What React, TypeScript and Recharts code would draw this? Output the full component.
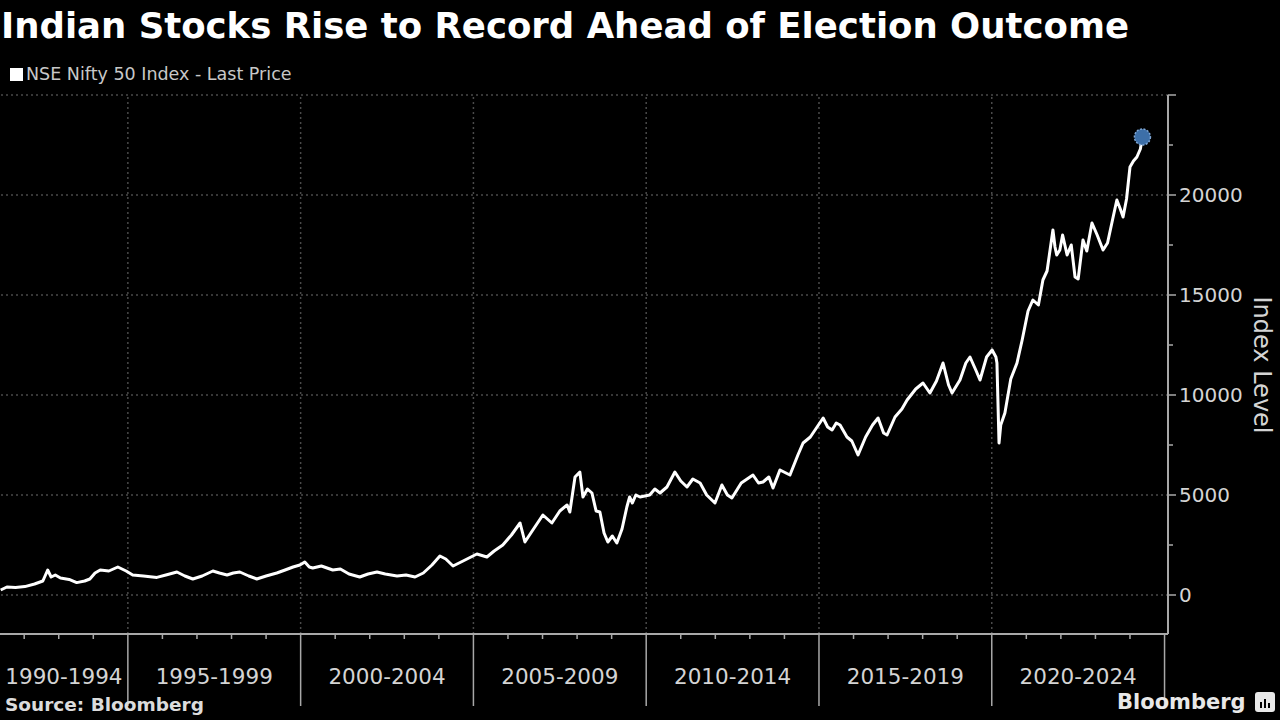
import React from 'react';
import { LineChart, Line, XAxis, YAxis, ReferenceLine } from 'recharts';

// time (fractional year) and index level
const years = [
  1991.32, 1991.5, 1991.75, 1992.02, 1992.3, 1992.54, 1992.68, 1992.78, 1992.9, 1993.05,
  1993.3, 1993.52, 1993.75, 1993.9, 1994.05, 1994.2, 1994.45, 1994.71, 1994.95, 1995.14,
  1995.45, 1995.84, 1996.1, 1996.42, 1996.65, 1996.88, 1997.15, 1997.46, 1997.65, 1997.87,
  1998.05, 1998.24, 1998.5, 1998.73, 1999.0, 1999.31, 1999.55, 1999.78, 1999.98, 2000.12,
  2000.25, 2000.35, 2000.6, 2000.93, 2001.15, 2001.4, 2001.71, 2001.95, 2002.21, 2002.45,
  2002.79, 2003.05, 2003.31, 2003.55, 2003.8, 2004.03, 2004.2, 2004.41, 2004.7, 2005.1,
  2005.39, 2005.6, 2005.85, 2006.1, 2006.35, 2006.49, 2006.7, 2007.01, 2007.27, 2007.5,
  2007.71, 2007.79, 2007.94, 2008.08, 2008.17, 2008.3, 2008.43, 2008.55, 2008.66, 2008.78,
  2008.89, 2009.02, 2009.15, 2009.3, 2009.44, 2009.52, 2009.6, 2009.7, 2009.82, 2010.1,
  2010.25, 2010.4, 2010.6, 2010.83, 2011.0, 2011.18, 2011.35, 2011.56, 2011.75, 2011.99,
  2012.19, 2012.35, 2012.48, 2012.75, 2013.09, 2013.25, 2013.38, 2013.55, 2013.67, 2013.87,
  2014.16, 2014.39, 2014.54, 2014.75, 2015.12, 2015.25, 2015.38, 2015.5, 2015.61, 2015.81,
  2015.95, 2016.13, 2016.35, 2016.55, 2016.71, 2016.87, 2016.97, 2017.2, 2017.4, 2017.55,
  2017.8, 2018.01, 2018.21, 2018.4, 2018.59, 2018.75, 2018.85, 2019.08, 2019.25, 2019.37,
  2019.55, 2019.66, 2019.85, 2020.01, 2020.12, 2020.15, 2020.21, 2020.26, 2020.38, 2020.55,
  2020.73, 2020.88, 2021.05, 2021.19, 2021.35, 2021.48, 2021.6, 2021.77, 2021.83, 2021.88,
  2021.97, 2022.05, 2022.18, 2022.3, 2022.41, 2022.5, 2022.64, 2022.75, 2022.9, 2023.05,
  2023.22, 2023.35, 2023.5, 2023.62, 2023.72, 2023.8, 2023.9, 2024.0, 2024.1, 2024.2,
  2024.3, 2024.36,
];
const levels = [
  250, 400, 380, 420, 550, 700, 1250, 900, 1000, 850,
  780, 620, 700, 800, 1100, 1250, 1200, 1400, 1200, 1000,
  950, 880, 1000, 1150, 950, 800, 950, 1200, 1100, 1000,
  1100, 1150, 950, 800, 950, 1100, 1250, 1400, 1500, 1650,
  1400, 1350, 1450, 1250, 1300, 1050, 900, 1050, 1150, 1050,
  950, 1000, 900, 1100, 1500, 1950, 1800, 1450, 1700, 2050,
  1900, 2200, 2500, 3000, 3600, 2650, 3200, 4000, 3600, 4200,
  4500, 4150, 5900, 6150, 4900, 5300, 5100, 4200, 4150, 3100,
  2650, 2950, 2600, 3300, 4400, 4900, 4600, 5000, 4900, 5000,
  5300, 5100, 5400, 6150, 5700, 5400, 5800, 5600, 5000, 4600,
  5500, 5000, 4850, 5600, 6000, 5600, 5650, 5900, 5350, 6250,
  6000, 7000, 7600, 7900, 8850, 8400, 8250, 8600, 8500, 7900,
  7700, 7000, 7900, 8500, 8850, 8100, 8000, 8900, 9300, 9750,
  10300, 10600, 10100, 10700, 11600, 10500, 10100, 10750, 11600, 11900,
  11200, 10750, 11900, 12250, 11900, 11600, 7600, 8500, 9100, 10800,
  11600, 12750, 14200, 14750, 14500, 15750, 16200, 18250, 17400, 17000,
  17250, 18000, 17000, 17500, 15900, 15800, 17750, 17200, 18600, 18000,
  17250, 17600, 18800, 19750, 19300, 18900, 19800, 21400, 21700, 21900,
  22300, 22900,
];

const periodLabels = ['1990-1994', '1995-1999', '2000-2004', '2005-2009', '2010-2014', '2015-2019', '2020-2024'];
const periodCenters = [1993.15, 1997.5, 2002.5, 2007.5, 2012.5, 2017.5, 2022.5];
const periodBounds = [1995, 2000, 2005, 2010, 2015, 2020, 2025];
const yearTicks = [1992, 1993, 1994, 1995, 1996, 1997, 1998, 1999, 2000, 2001, 2002, 2003, 2004, 2005, 2006, 2007, 2008, 2009, 2010, 2011, 2012, 2013, 2014, 2015, 2016, 2017, 2018, 2019, 2020, 2021, 2022, 2023, 2024, 2025];
const yTicks = [0, 2500, 5000, 7500, 10000, 12500, 15000, 17500, 20000, 22500, 25000];
const gridLevels = [0, 5000, 10000, 15000, 20000, 25000];

const data = years.map((t, i) => ({ t, v: levels[i] }));
const lastIdx = data.length - 1;

const axisColor = '#a8a8a8';
const labelColor = '#d4d4d4';
const gridColor = '#4a4a4a';
const font = '"DejaVu Sans", Verdana, sans-serif';

const xTicksAll = [...yearTicks, ...periodCenters].sort((a, b) => a - b);

const XTick = (props: any) => {
  const { x, y, payload } = props;
  const v = payload.value;
  const pi = periodCenters.indexOf(v);
  if (pi >= 0) {
    return (
      <text x={x} y={y + 42} textAnchor="middle" dy="0.35em" fill={labelColor} fontSize={21.5} fontFamily={font}>
        {periodLabels[pi]}
      </text>
    );
  }
  const major = periodBounds.includes(v);
  return <line x1={x} x2={x} y1={y} y2={y + (major ? 72 : 5)} stroke={axisColor} strokeWidth={1.5} />;
};

const YTick = (props: any) => {
  const { x, y, payload } = props;
  const v = payload.value;
  const major = v % 5000 === 0;
  return (
    <g>
      <line x1={x} x2={x + (major ? 8 : 5)} y1={y} y2={y} stroke={axisColor} strokeWidth={1.5} />
      {major && v < 25000 && (
        <text x={x + 11} y={y} dy="0.35em" fill={labelColor} fontSize={20} fontFamily={font}>
          {v}
        </text>
      )}
    </g>
  );
};

const EndDot = (props: any) => {
  const { cx, cy, index } = props;
  if (index !== lastIdx) return <g key={`d${index}`} />;
  return (
    <g key={`d${index}`}>
      <circle cx={cx} cy={cy} r={8} fill="#3d6fa8" stroke="#7fa6d4" strokeWidth={1.5} strokeDasharray="2 1.5" />
    </g>
  );
};

export default function App() {
  return (
    <div style={{ position: 'fixed', left: 0, top: 0, width: 1280, height: 720, background: '#000', overflow: 'hidden' }}>
      <div style={{ position: 'absolute', left: 1, top: 5, color: '#fff', fontFamily: font, fontWeight: 'bold', fontSize: 35.5, whiteSpace: 'nowrap' }}>
        Indian Stocks Rise to Record Ahead of Election Outcome
      </div>
      <div style={{ position: 'absolute', left: 10, top: 64, display: 'flex', alignItems: 'center', fontFamily: font, fontSize: 17.5, color: '#c8c8c8', whiteSpace: 'nowrap' }}>
        <span style={{ display: 'inline-block', width: 13, height: 13, background: '#fff', marginRight: 3 }} />
        NSE Nifty 50 Index - Last Price
      </div>

      <div style={{ position: 'absolute', left: 0, top: 0 }}>
        <LineChart width={1280} height={720} data={data} margin={{ top: 95, right: 0, left: 0, bottom: 0 }}>
          {gridLevels.map((g) => (
            <ReferenceLine key={`h${g}`} y={g} stroke={gridColor} strokeDasharray="2 3" strokeWidth={1.5} />
          ))}
          {periodBounds.slice(0, 6).map((b) => (
            <ReferenceLine key={`v${b}`} x={b} stroke={gridColor} strokeDasharray="2 3" strokeWidth={1.5} />
          ))}
          <XAxis
            dataKey="t"
            type="number"
            domain={[1991.3, 2025.1]}
            allowDataOverflow
            ticks={xTicksAll}
            interval={0}
            height={86}
            tickSize={0}
            tickMargin={0}
            tickLine={false}
            axisLine={{ stroke: axisColor, strokeWidth: 2 }}
            tick={XTick}
          />
          <YAxis
            orientation="right"
            type="number"
            domain={[-1950, 25000]}
            allowDataOverflow
            ticks={yTicks}
            interval={0}
            width={112}
            tickSize={0}
            tickMargin={0}
            tickLine={false}
            axisLine={{ stroke: axisColor, strokeWidth: 2 }}
            tick={YTick}
          />
          <Line
            type="linear"
            dataKey="v"
            stroke="#fff"
            strokeWidth={3}
            strokeLinejoin="round"
            dot={EndDot}
            activeDot={false}
            isAnimationActive={false}
          />
        </LineChart>
      </div>

      <div style={{ position: 'absolute', left: 1262, top: 365, transform: 'translate(-50%, -50%)', writingMode: 'vertical-rl', fontFamily: font, fontSize: 24, color: labelColor, whiteSpace: 'nowrap' }}>
        Index Level
      </div>

      <div style={{ position: 'absolute', left: 5, top: 694, fontFamily: font, fontWeight: 'bold', fontSize: 18.5, color: '#dcdcdc' }}>
        Source: Bloomberg
      </div>
      <div style={{ position: 'absolute', left: 1117, top: 690, display: 'flex', alignItems: 'center', fontFamily: font, fontWeight: 'bold', fontSize: 21, color: '#e8e8e8' }}>
        Bloomberg
        <span style={{ display: 'inline-block', marginLeft: 9, width: 20, height: 20, borderRadius: 3, background: '#e8e8e8', position: 'relative' }}>
          <span style={{ position: 'absolute', left: 5, bottom: 4, width: 2, height: 6, background: '#000' }} />
          <span style={{ position: 'absolute', left: 9, bottom: 4, width: 2, height: 9, background: '#000' }} />
          <span style={{ position: 'absolute', left: 13, bottom: 4, width: 2, height: 5, background: '#000' }} />
        </span>
      </div>
    </div>
  );
}
